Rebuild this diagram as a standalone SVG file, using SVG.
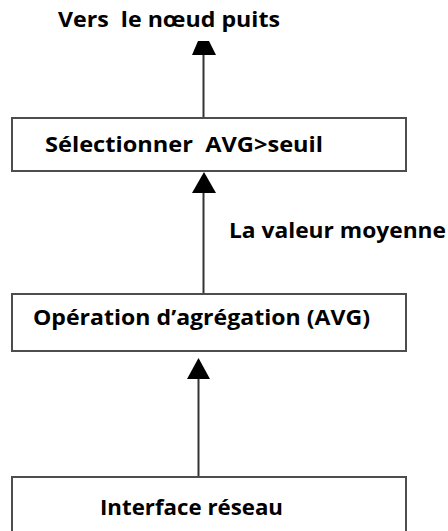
<svg xmlns="http://www.w3.org/2000/svg" width="448" height="531" viewBox="0 0 448 531">
  <style>
    .box { fill: #ffffff; stroke: #4d4d4d; stroke-width: 2; }
    .lbl { font-family: "Open Sans", "Liberation Sans", sans-serif; font-weight: bold; font-size: 21px; fill: #000000; white-space: pre; }
    .line { stroke: #333333; stroke-width: 2; fill: none; }
    .head { fill: #000000; stroke: none; }
  </style>
  <rect width="448" height="531" fill="#ffffff"/>

  <g id="connectors">
    <line class="line" x1="203.5" y1="118" x2="203.5" y2="54"/>
    <polygon class="head" points="198,41 209,41 216,55 192,55"/>
    <line class="line" x1="203.5" y1="294" x2="203.5" y2="190"/>
    <polygon class="head" points="204,172 216,193 192,193"/>
    <line class="line" x1="198.5" y1="477" x2="198.5" y2="376"/>
    <polygon class="head" points="198.5,358 210,379 187,379"/>
  </g>

  <g id="label-sink">
    <text class="lbl" x="58" y="27" textLength="222" lengthAdjust="spacingAndGlyphs">Vers  le nœud puits</text>
  </g>

  <g id="node-select">
    <rect class="box" x="12" y="118" width="394" height="53"/>
    <text class="lbl" x="45" y="152" textLength="278" lengthAdjust="spacingAndGlyphs">Sélectionner  AVG&gt;seuil</text>
  </g>

  <g id="label-avg">
    <text class="lbl" x="229" y="238" textLength="217" lengthAdjust="spacingAndGlyphs">La valeur moyenne</text>
  </g>

  <g id="node-aggregation">
    <rect class="box" x="12" y="294" width="394" height="57"/>
    <text class="lbl" x="33" y="325" textLength="337" lengthAdjust="spacingAndGlyphs">Opération d’agrégation (AVG)</text>
  </g>

  <g id="node-interface">
    <rect class="box" x="12" y="477" width="394" height="70"/>
    <text class="lbl" x="100" y="515" textLength="183" lengthAdjust="spacingAndGlyphs">Interface réseau</text>
  </g>
</svg>
